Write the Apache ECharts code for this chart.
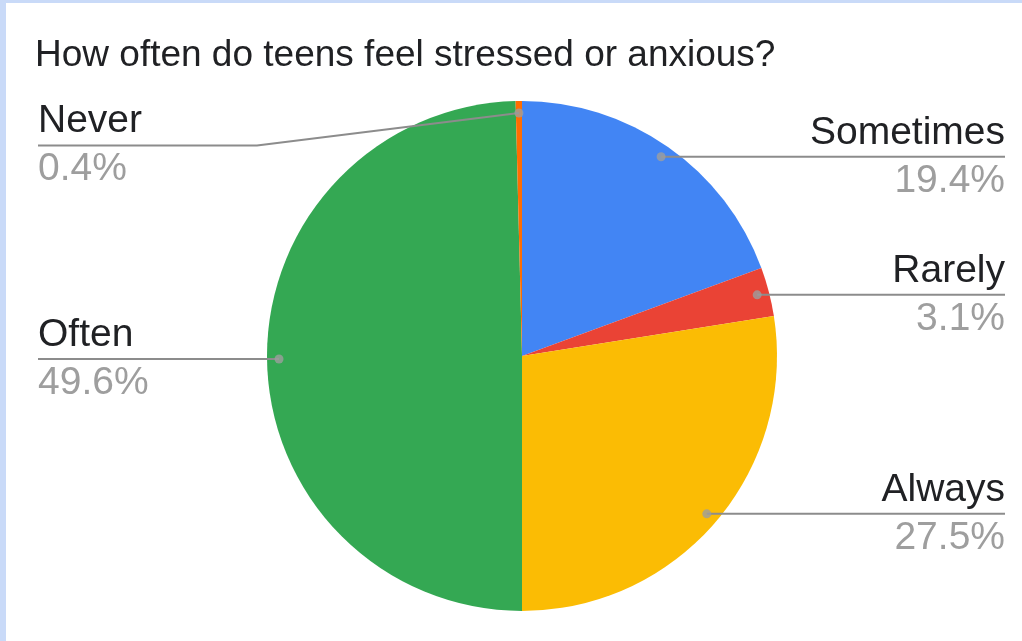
<!DOCTYPE html>
<html>
<head>
<meta charset="utf-8">
<script src="https://cdn.jsdelivr.net/npm/echarts@6/dist/echarts.min.js"></script>
<style>
  body { margin: 0; }
  #main { position: absolute; left: 0; top: 0; width: 1022px; height: 641px; background: #fff; }
  .edge { position: absolute; left: 0; top: 0; background: #c9daf8; }
</style>
</head>
<body>
<div id="main"></div>
<div class="edge" style="width:6px;height:641px"></div>
<div class="edge" style="width:1022px;height:3px"></div>
<script>
var titleText = 'How often do teens feel stressed or anxious?'
var categories = ['Sometimes', 'Rarely', 'Always', 'Often', 'Never']
var shares = [19.4, 3.1, 27.5, 49.6, 0.4]
var colors = ['#4285f4', '#ea4335', '#fbbc04', '#34a853', '#ff6d01']

// pie geometry (absolute px)
var CX = 522, CY = 356, R = 255
var BOX = { left: 38, right: 17, top: 101, bottom: 0 }
var DOT_R = 243
var FONT = "'Liberation Sans', Arial, sans-serif"

var pieData = categories.map(function (name, i) {
  return { name: name, value: shares[i], itemStyle: { color: colors[i] } }
})

// dot positions at the middle of each slice
var total = shares.reduce(function (a, b) { return a + b }, 0)
var dots = []
var acc = 0
shares.forEach(function (v) {
  dots.push([DOT_R / R, (acc + v / 2) / total * 100])
  acc += v
})

function dotPoint(i) {
  var a = dots[i][1] / 100 * Math.PI * 2
  return [CX + DOT_R * Math.sin(a), CY - DOT_R * Math.cos(a)]
}

var chart = echarts.init(document.getElementById('main'))
chart.setOption({
  animation: false,
  title: {
    text: titleText,
    left: 35,
    top: 37,
    padding: 0,
    textStyle: { fontFamily: FONT, fontSize: 37, fontWeight: 'normal', color: '#202124' }
  },
  polar: { center: [CX, CY], radius: R },
  angleAxis: { type: 'value', min: 0, max: 100, startAngle: 90, clockwise: true, show: false },
  radiusAxis: { type: 'value', min: 0, max: 1, show: false },
  series: [
    {
      type: 'pie',
      z: 1,
      left: BOX.left, right: BOX.right, top: BOX.top, bottom: BOX.bottom,
      center: [CX - BOX.left, CY - BOX.top],
      radius: R,
      startAngle: 90,
      silent: true,
      label: { show: false },
      labelLine: { show: false },
      data: pieData
    },
    {
      type: 'pie',
      z: 3,
      left: BOX.left, right: BOX.right, top: BOX.top, bottom: BOX.bottom,
      center: [CX - BOX.left, CY - BOX.top],
      radius: DOT_R,
      startAngle: 90,
      silent: true,
      percentPrecision: 1,
      itemStyle: { color: 'rgba(0,0,0,0)' },
      label: {
        show: true,
        position: 'outside',
        alignTo: 'edge',
        edgeDistance: 0,
        formatter: '{n|{b}}\n{v|{d}%}',
        rich: {
          n: { fontFamily: FONT, fontSize: 39, lineHeight: 48, color: '#202124' },
          v: { fontFamily: FONT, fontSize: 39, lineHeight: 48, color: '#9e9e9e' }
        }
      },
      labelLine: {
        show: true, length: 0, length2: 20,
        minTurnAngle: 0, maxSurfaceAngle: 180,
        lineStyle: { color: '#8c8c8c', width: 2 }
      },
      labelLayout: function (params) {
        var pts = params.labelLinePoints
        if (!pts) return {}
        var rect = params.labelRect
        var p0 = dotPoint(params.dataIndex)
        var y = pts[pts.length - 1][1]
        var isLeft = rect.x + rect.width / 2 < CX
        var edgeX = isLeft ? rect.x : rect.x + rect.width
        var bendX = isLeft ? Math.min(p0[0], CX - R - 10) : Math.max(p0[0], CX + R + 10)
        if (Math.abs(p0[1] - y) < 1) bendX = (p0[0] + edgeX) / 2
        return { labelLinePoints: [p0, [bendX, y], [edgeX, y]] }
      },
      data: pieData.map(function (d) { return { name: d.name, value: d.value } })
    },
    {
      type: 'scatter',
      z: 4,
      coordinateSystem: 'polar',
      symbol: 'circle',
      symbolSize: 9,
      silent: true,
      itemStyle: { color: '#9e9e9e' },
      data: dots
    }
  ]
})
</script>
</body>
</html>
